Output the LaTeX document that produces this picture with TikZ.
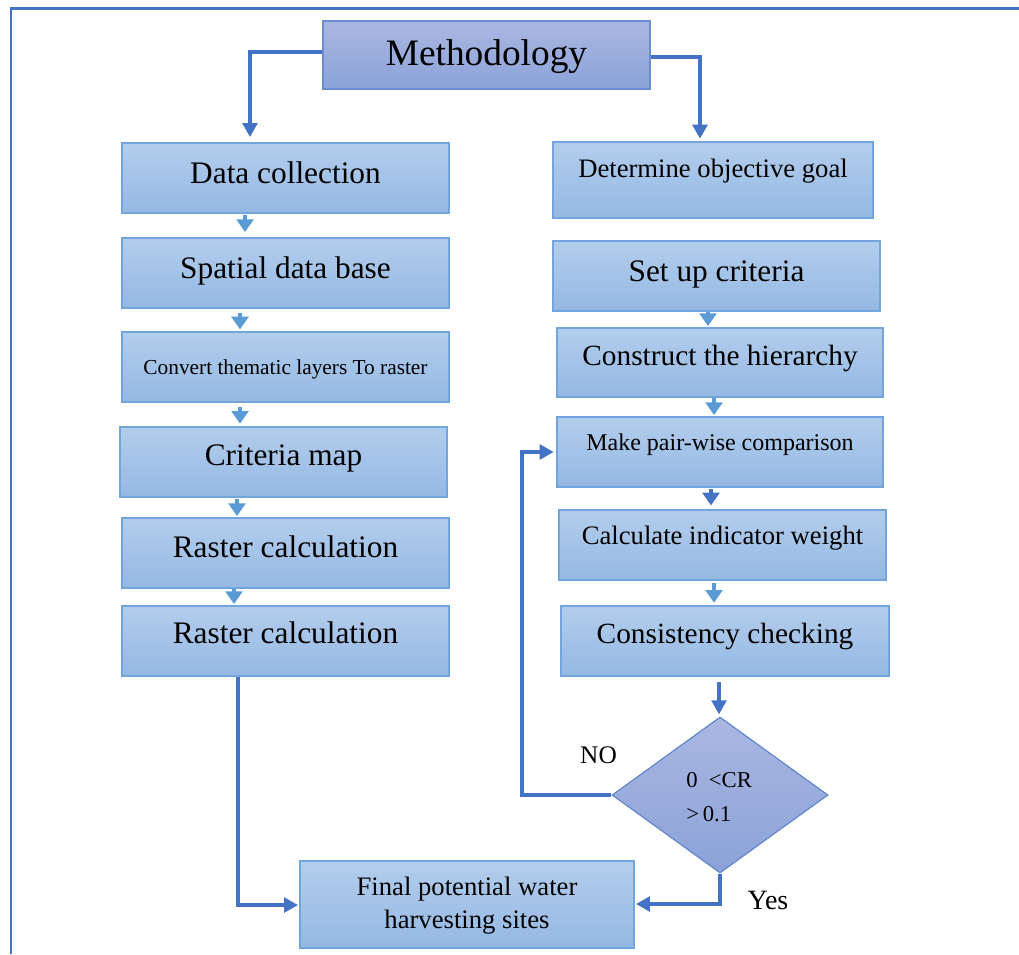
\documentclass[tikz,border=0pt]{standalone}
\usepackage{fontspec}
\setmainfont{Liberation Serif}
\usetikzlibrary{shapes.geometric,arrows.meta,fit}
\definecolor{dk}{HTML}{4472C4}
\definecolor{lt}{HTML}{5B9BD5}
\definecolor{boxtop}{HTML}{B3CDEC}
\definecolor{boxbot}{HTML}{94B8E3}
\definecolor{boxline}{HTML}{72A5DC}
\definecolor{mtop}{HTML}{AAB7E1}
\definecolor{mbot}{HTML}{8BA2D8}
\tikzset{
  box/.style={draw=boxline, line width=0.9pt, top color=boxtop, bottom color=boxbot, inner sep=0pt, rectangle},
  mbox/.style={draw=dk!80!white, line width=0.9pt, top color=mtop, bottom color=mbot, inner sep=0pt, rectangle},
  txt/.style={inner sep=0pt, anchor=base, align=center},
  bigarrow/.style={draw=dk, line width=3pt, -{Triangle[width=11pt,length=10.5pt]}},
  smallarrow/.style={draw=lt, line width=2.6pt, -{Triangle[width=12.5pt,length=9.5pt]}},
  smalldk/.style={draw=dk, line width=2.6pt, -{Triangle[width=12.5pt,length=9.5pt]}},
}
\begin{document}
\begin{tikzpicture}[x=0.75pt,y=-0.75pt]
\useasboundingbox (0,0) rectangle (1019,954);
% frame
\draw[dk, line width=1.6pt] (11,954) -- (11,8.5) -- (1019,8.5);

% Methodology
\node[mbox, fit={(323,21) (650,89)}] (m) {};
\node[txt, font=\fontsize{28}{32}\selectfont] (mt) at (486.5,65) {Methodology};

% left column
\node[box, fit={(122,143) (449,213)}] (b1) {};
\node[txt, font=\fontsize{23.5}{28}\selectfont] (b1t) at (285.5,183) {Data collection};
\node[box, fit={(122,238) (449,308)}] (b2) {};
\node[txt, font=\fontsize{23.5}{28}\selectfont] (b2t) at (285.5,278) {Spatial data base};
\node[box, fit={(122,332) (449,402)}] (b3) {};
\node[txt, font=\fontsize{16}{20}\selectfont] (b3t) at (285.5,374) {Convert thematic layers To raster};
\node[box, fit={(120,427) (447,497)}] (b4) {};
\node[txt, font=\fontsize{23.5}{28}\selectfont] (b4t) at (283.5,465) {Criteria map};
\node[box, fit={(122,518) (449,588)}] (b5) {};
\node[txt, font=\fontsize{23.5}{28}\selectfont] (b5t) at (285.5,557) {Raster calculation};
\node[box, fit={(122,606) (449,676)}] (b6) {};
\node[txt, font=\fontsize{23.5}{28}\selectfont] (b6t) at (285.5,643) {Raster calculation};

% right column
\node[box, fit={(553,142) (873,218)}] (r1) {};
\node[txt, font=\fontsize{20}{24}\selectfont] (r1t) at (713,177) {Determine objective goal};
\node[box, fit={(553,241) (880,311)}] (r2) {};
\node[txt, font=\fontsize{23.5}{28}\selectfont] (r2t) at (716.5,281) {Set up criteria};
\node[box, fit={(557,328) (883,397)}] (r3) {};
\node[txt, font=\fontsize{22}{26}\selectfont] (r3t) at (720,365) {Construct the hierarchy};
\node[box, fit={(557,417) (883,487)}] (r4) {};
\node[txt, font=\fontsize{18}{22}\selectfont] (r4t) at (720,450) {Make pair-wise comparison};
\node[box, fit={(559,510) (886,580)}] (r5) {};
\node[txt, font=\fontsize{20}{24}\selectfont] (r5t) at (722.5,544) {Calculate indicator weight};
\node[box, fit={(561,606) (889,676)}] (r6) {};
\node[txt, font=\fontsize{22}{26}\selectfont] (r6t) at (725,643) {Consistency checking};

% diamond
\node[diamond, draw=dk!85!white, line width=0.9pt, top color=mtop, bottom color=mbot,
      minimum width=162pt, minimum height=117pt, inner sep=0pt] (d) at (720,795) {};
\node[inner sep=0pt, anchor=base west, align=left, font=\fontsize{17}{25.5}\selectfont] (dt) at (686,821) {0\ \ {<}CR\\{>}\,0.1};

% final
\node[box, fit={(300,861) (634,948)}] (fin) {};
\node[txt, font=\fontsize{20}{24.75}\selectfont] (fint) at (467,928) {Final potential water\\harvesting sites};

% labels
\node[txt, font=\fontsize{19}{22}\selectfont] (no) at (598.5,763) {NO};
\node[txt, font=\fontsize{21}{24}\selectfont] (yes) at (768,909) {Yes};

% big connectors
\draw[bigarrow, shorten >=4pt] (m.west |- 0,51.5) -- (250,51.5) -- (250,0 |- b1.north);
\draw[bigarrow, shorten >=2pt] (m.east |- 0,57) -- (700,57) -- (700,0 |- r1.north);
\draw[bigarrow, shorten >=1pt] (238,0 |- b6.south) -- (238,905) -- (fin.west |- 0,905);
\draw[bigarrow, shorten >=1pt] (d.south) -- (720,904) -- (fin.east |- 0,904);
\draw[bigarrow, shorten >=2pt] (d.west) -- (522,0 |- d.west) -- (522,452) -- (r4.west |- 0,452);
\draw[bigarrow, line width=2.4pt, shorten <=4pt, shorten >=1.5pt] (719,0 |- r6.south) -- (719,0 |- d.north);

% small connectors
\draw[smallarrow, shorten <=1pt, shorten >=4pt] (245,0 |- b1.south) -- (245,0 |- b2.north);
\draw[smallarrow, shorten <=3pt, shorten >=1.5pt] (240,0 |- b2.south) -- (240,0 |- b3.north);
\draw[smallarrow, shorten <=3pt, shorten >=2pt] (240,0 |- b3.south) -- (240,0 |- b4.north);
\draw[smallarrow, shorten <=1pt, shorten >=1pt] (237,0 |- b4.south) -- (237,0 |- b5.north);
\draw[smallarrow, shorten <=0pt, shorten >=1pt] (234,0 |- b5.south) -- (234,0 |- b6.north);
\draw[smallarrow, shorten <=0pt, shorten >=1pt] (708,0 |- r2.south) -- (708,0 |- r3.north);
\draw[smallarrow, shorten <=0pt, shorten >=1pt] (714,0 |- r3.south) -- (714,0 |- r4.north);
\draw[smalldk, shorten <=1pt, shorten >=3pt] (711,0 |- r4.south) -- (711,0 |- r5.north);
\draw[smallarrow, shorten <=2pt, shorten >=2pt] (714,0 |- r5.south) -- (714,0 |- r6.north);
\end{tikzpicture}
\end{document}
